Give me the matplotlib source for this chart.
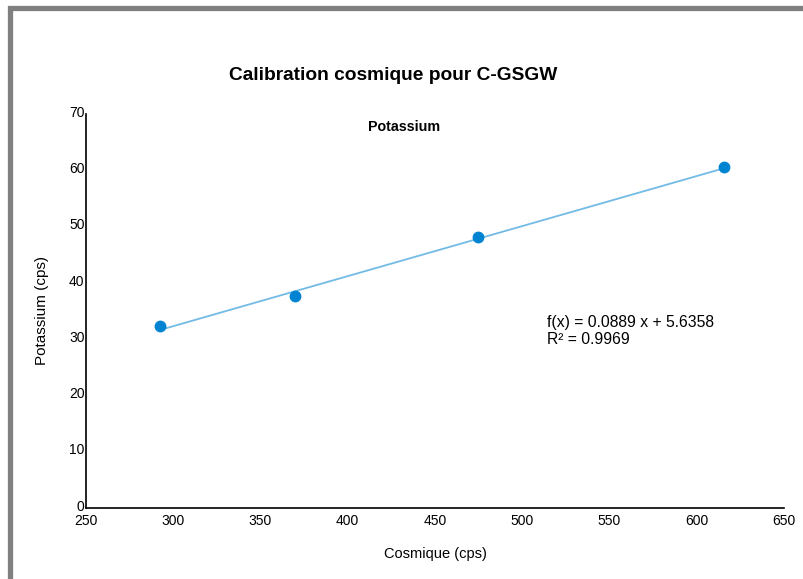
import numpy as np
import matplotlib.pyplot as plt
import matplotlib.transforms as mtransforms
from matplotlib.patches import Rectangle

# cosmic counts vs potassium counts
cosmique = [292.4, 369.7, 474.5, 615.4]
potassium = [32.4, 37.6, 48.1, 60.6]

# regression reported on the chart
slope = 0.0889
intercept = 5.6358
r2 = 0.9969

x_ticks = [250, 300, 350, 400, 450, 500, 550, 600, 650]
y_ticks = [0, 10, 20, 30, 40, 50, 60, 70]


def main():
    plt.rcParams['font.family'] = ['Liberation Sans', 'DejaVu Sans']

    fig = plt.figure(figsize=(8.04, 5.79), dpi=100)

    # grey frame around the chart area
    fig.patches.append(Rectangle((10.5 / 804, -0.1), 1.2, (579 - 7.5) / 579 + 0.1,
                                 transform=fig.transFigure, fill=False,
                                 edgecolor='#808080', linewidth=3.8))

    ax = fig.add_axes([86 / 804, 1 - 508 / 579, (784 - 86) / 804, (508 - 114) / 579])

    xs = np.array([min(cosmique), max(cosmique)])
    ax.plot(xs, slope * xs + intercept, color='#72bbe6', linewidth=1.3, zorder=2)
    ax.plot(cosmique, potassium, 'o', color='#0084d1', markersize=7.5, zorder=3)

    ax.set_xlim(250, 650)
    ax.set_ylim(0, 70)
    ax.set_xticks(x_ticks)
    ax.set_yticks(y_ticks)
    ax.tick_params(length=0, labelsize=10, colors='#000000')
    ax.tick_params(axis='y', pad=1)
    ax.tick_params(axis='x', pad=4)
    # y labels sit a touch above their value
    lift = mtransforms.ScaledTranslation(0, 2 / 72, fig.dpi_scale_trans)
    for lbl in ax.get_yticklabels():
        lbl.set_verticalalignment('center_baseline')
        lbl.set_transform(lbl.get_transform() + lift)
    for s in ['top', 'right']:
        ax.spines[s].set_visible(False)
    for s in ['left', 'bottom']:
        ax.spines[s].set_linewidth(1.2)

    ax.set_xlabel('Cosmique (cps)', fontsize=10.5, labelpad=14)
    ax.set_ylabel('Potassium (cps)', fontsize=11, labelpad=14.5)

    fig.text(393 / 804, 1 - 75 / 579, 'Calibration cosmique pour C-GSGW',
             ha='center', va='center', fontsize=13.8, fontweight='bold')
    fig.text(404 / 804, 1 - 127 / 579, 'Potassium',
             ha='center', va='center', fontsize=10.3, fontweight='bold')

    fig.text(547 / 804, 1 - 331 / 579,
             'f(x) = %.4f x + %.4f\nR² = %.4f' % (slope, intercept, r2),
             ha='left', va='center', fontsize=11.3, linespacing=1.1)

    fig.savefig('out.png', dpi=100)


if __name__ == "__main__":
    main()
